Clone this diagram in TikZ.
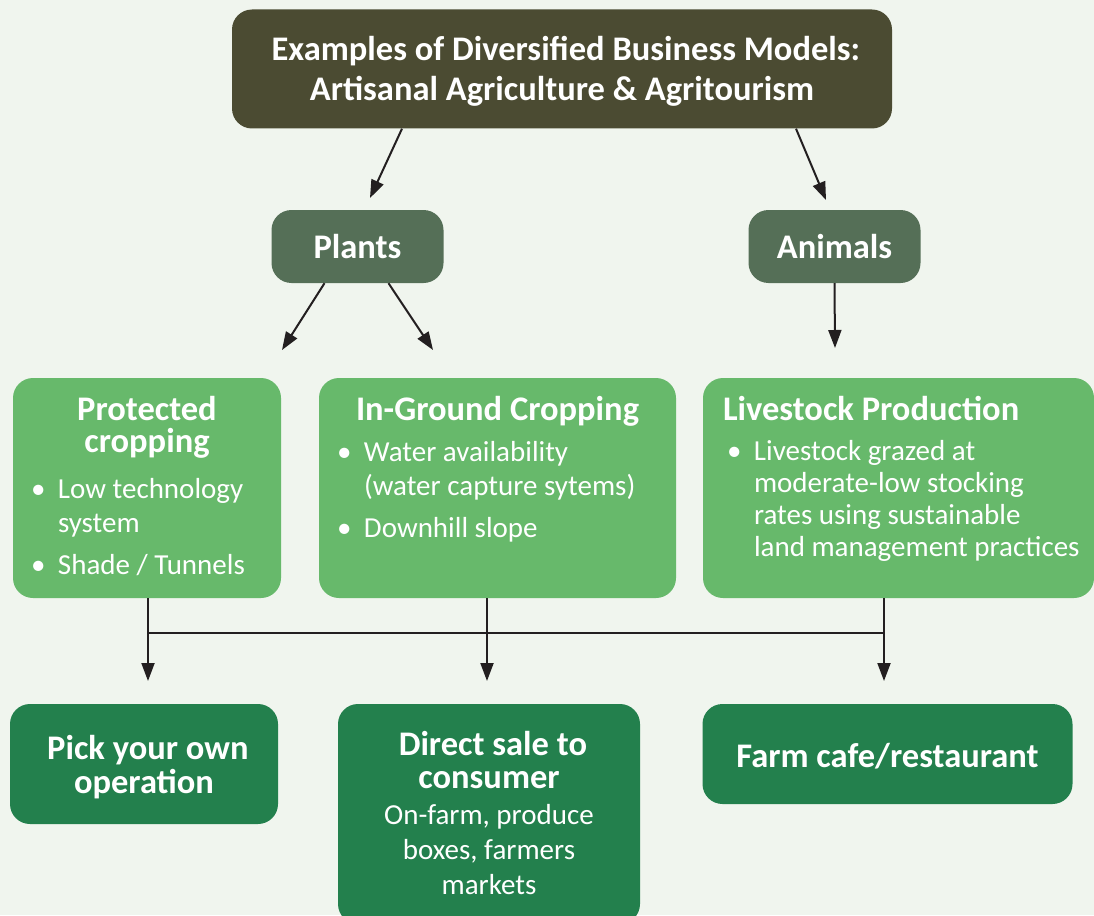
\documentclass[tikz,border=0pt]{standalone}
\usepackage{fontspec}
\setmainfont{Carlito}
\usetikzlibrary{arrows.meta}

\definecolor{bgcol}{HTML}{F0F5EE}
\definecolor{titlecol}{HTML}{4B4B32}
\definecolor{kindcol}{HTML}{556F57}
\definecolor{modecol}{HTML}{67B96B}
\definecolor{salecol}{HTML}{23804D}
\definecolor{linecol}{HTML}{231F20}

\newcommand\hdfont[1][32]{\fontsize{34.5}{#1}\selectfont\bfseries}
\newcommand\bdfont[1][34]{\fontsize{29}{#1}\selectfont}
% box text: width, height, first baseline, content
\newcommand\inbox[4]{\parbox[c][#2][t]{#1}{\rule{0pt}{#3}#4}}
\newcommand\bitem[1]{\par\hangindent=27pt\hangafter=1\noindent\makebox[27pt][l]{\textbullet}#1\par}

\tikzset{
  box/.style={rounded corners=20pt, inner sep=0pt, text=white},
  titlebox/.style={box, fill=titlecol},
  kindbox/.style={box, fill=kindcol},
  modebox/.style={box, fill=modecol},
  salebox/.style={box, fill=salecol},
  arr/.style={draw=linecol, line width=2pt, -{Triangle[length=18pt,width=13pt]}},
  bus/.style={draw=linecol, line width=2pt}
}

\begin{document}
\begin{tikzpicture}[x=1pt,y=-1pt]
  \fill[bgcol] (0,0) rectangle (1094,915);
  \useasboundingbox (0,0) rectangle (1094,915);

  \node[titlebox] (title) at (562,69) {\inbox{660pt}{119pt}{51pt}{\centering\hdfont[40]
    Examples of Diversified Business Models:\\Artisanal Agriculture \& Agritourism\par}};

  \node[kindbox] (plants) at (357.5,246.5) {\inbox{172pt}{73pt}{48pt}{\centering\hdfont Plants\par}};
  \node[kindbox] (animals) at (834.5,246.5) {\inbox{172pt}{73pt}{48pt}{\centering\hdfont Animals\par}};

  \node[modebox] (prot) at (147,488) {\inbox{268pt}{220pt}{42pt}{%
    {\centering\hdfont Protected\\cropping\par}
    \vspace{12pt}
    {\bdfont\raggedright\leftskip=18pt
    \bitem{Low technology\newline system}
    \vspace{8pt}
    \bitem{Shade / Tunnels}}}};
  \node[modebox] (ingr) at (497.5,488) {\inbox{357pt}{220pt}{42pt}{%
    {\centering\hdfont In-Ground Cropping\par}
    \vspace{7pt}
    {\bdfont\raggedright\leftskip=18pt
    \bitem{Water availability\newline (water capture sytems)}
    \vspace{8pt}
    \bitem{Downhill slope}}}};
  \node[modebox] (live) at (898.5,488) {\inbox{391pt}{220pt}{42pt}{%
    {\raggedright\leftskip=20pt\hdfont Livestock Production\par}
    \vspace{8pt}
    {\bdfont[32]\raggedright\leftskip=24pt
    \bitem{Livestock grazed at\newline moderate-low stocking\newline rates using sustainable\newline land management practices}}}};

  \node[salebox] (pick) at (144,764) {\inbox{268pt}{120pt}{55pt}{\centering\hdfont[34]
    Pick your own\\operation\par}};
  \node[salebox] (sale) at (489,814) {\inbox{302pt}{220pt}{51pt}{%
    {\centering\hdfont[33] Direct sale to\\consumer\par}
    \vspace{1pt}
    {\centering\bdfont[35] On-farm, produce\\boxes, farmers\\markets\par}}};
  \node[salebox] (cafe) at (887.5,754) {\inbox{370pt}{100pt}{63pt}{\centering\hdfont
    Farm cafe/restaurant\par}};

  \coordinate (pl-tip) at (370,198);
  \coordinate (an-tip) at (826,200);
  \coordinate (prot-tip) at (282,350);
  \coordinate (ingr-tip) at (433,350);
  \coordinate (live-tip) at (835,348);
  \coordinate (bus) at (0,633);
  \coordinate (pick-in) at (148,681);
  \coordinate (sale-in) at (487,681);
  \coordinate (cafe-in) at (884,681);

  \draw[arr] ([xshift=-160pt]title.south) -- (pl-tip);
  \draw[arr] ([xshift=234pt]title.south) -- (an-tip);
  \draw[arr] ([xshift=-33pt]plants.south) -- (prot-tip);
  \draw[arr] ([xshift=31pt]plants.south) -- (ingr-tip);
  \draw[arr] (animals.south) -- (live-tip);

  \draw[bus] (pick-in |- bus) -- (cafe-in |- bus);
  \draw[arr] (prot.south -| pick-in) -- (pick-in);
  \draw[arr] (ingr.south -| sale-in) -- (sale-in);
  \draw[arr] (live.south -| cafe-in) -- (cafe-in);
\end{tikzpicture}
\end{document}
